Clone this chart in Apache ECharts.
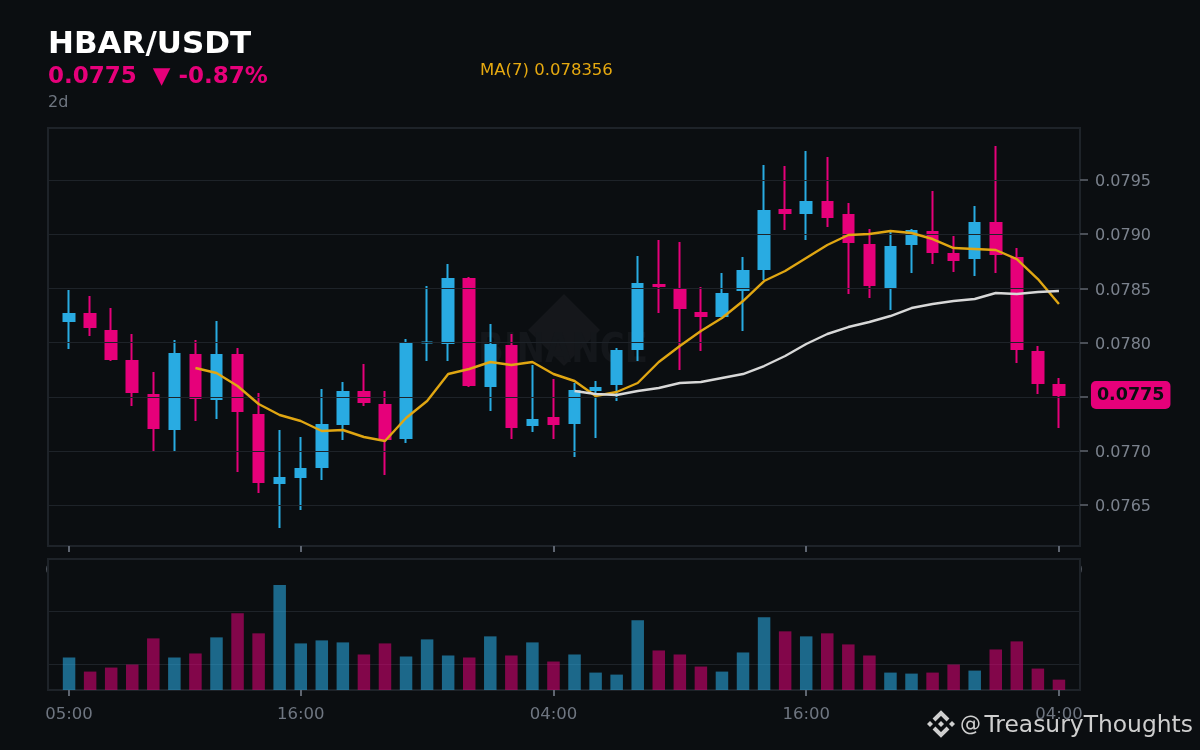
<!DOCTYPE html>
<html><head><meta charset="utf-8">
<style>html,body{margin:0;padding:0;background:#0b0e11}#c{width:1200px;height:750px}</style>
<script src="https://cdn.jsdelivr.net/npm/echarts@6/dist/echarts.min.js"></script>
</head><body><div id="c"></div>
<script>
const times = ['05:00','06:00','07:00','08:00','09:00','10:00','11:00','12:00','13:00','14:00','15:00','16:00','17:00','18:00','19:00','20:00','21:00','22:00','23:00','00:00','01:00','02:00','03:00','04:00','05:00','06:00','07:00','08:00','09:00','10:00','11:00','12:00','13:00','14:00','15:00','16:00','17:00','18:00','19:00','20:00','21:00','22:00','23:00','00:00','01:00','02:00','03:00','04:00'];
const labelledIndexes = [0, 11, 23, 35, 47];
const priceTicks = [0.0765, 0.077, 0.0775, 0.078, 0.0785, 0.079, 0.0795];
const volumeTicks = [26, 78];
const open = [0.0781993,0.0782639,0.0781070,0.0778303,0.0775166,0.0772030,0.0778856,0.0774797,0.0778856,0.0773321,0.0767047,0.0767602,0.0768524,0.0772491,0.0775443,0.0774244,0.0771200,0.0780010,0.0779963,0.0785867,0.0775997,0.0779687,0.0772399,0.0773045,0.0772583,0.0775628,0.0776181,0.0779410,0.0785314,0.0784945,0.0782731,0.0782454,0.0784853,0.0786790,0.0792233,0.0791956,0.0792970,0.0791771,0.0789004,0.0785037,0.0789096,0.0790203,0.0788174,0.0787805,0.0791033,0.0787805,0.0779133,0.0776089];
const close = [0.0782639,0.0781439,0.0778487,0.0775443,0.0772122,0.0778949,0.0774890,0.0778856,0.0773690,0.0767141,0.0767510,0.0768340,0.0772399,0.0775443,0.0774521,0.0771107,0.0779963,0.0780010,0.0785867,0.0776089,0.0779779,0.0772214,0.0772860,0.0772491,0.0775535,0.0775812,0.0779225,0.0785406,0.0785222,0.0783192,0.0782454,0.0784484,0.0786605,0.0792140,0.0791956,0.0792970,0.0791587,0.0789281,0.0785314,0.0788819,0.0790295,0.0788358,0.0787620,0.0791033,0.0788174,0.0779410,0.0776273,0.0775166];
const low = [0.0779410,0.0780609,0.0778303,0.0774152,0.0770000,0.0770000,0.0772768,0.0772952,0.0768063,0.0766126,0.0762897,0.0764558,0.0767325,0.0771015,0.0774152,0.0767786,0.0770738,0.0778303,0.0778303,0.0775904,0.0773690,0.0771107,0.0771753,0.0771107,0.0769447,0.0771200,0.0774613,0.0778303,0.0782731,0.0777473,0.0779225,0.0782362,0.0781070,0.0785775,0.0790388,0.0789465,0.0790664,0.0784484,0.0784115,0.0783008,0.0786421,0.0787251,0.0786513,0.0786144,0.0786421,0.0778117,0.0775259,0.0772122];
const high = [0.0784853,0.0784299,0.0783192,0.0780794,0.0777288,0.0780240,0.0780240,0.0781993,0.0779502,0.0775351,0.0771938,0.0771292,0.0775720,0.0776366,0.0778026,0.0775535,0.0780332,0.0785222,0.0787251,0.0786052,0.0781716,0.0780794,0.0777934,0.0776642,0.0776273,0.0776458,0.0779502,0.0787989,0.0789465,0.0789281,0.0785129,0.0786421,0.0787897,0.0796384,0.0796291,0.0797675,0.0797122,0.0792878,0.0790480,0.0790203,0.0790480,0.0793985,0.0789834,0.0792601,0.0798136,0.0788727,0.0779687,0.0776735];
const volume = [32.3,18.3,22.3,25.3,51.3,32.3,36.3,52.3,76.3,56.3,104.3,46.3,49.3,47.3,35.3,46.3,33.3,50.3,34.3,32.3,53.3,34.3,47.3,28.3,35.3,17.3,15.3,69.3,39.3,35.3,23.3,18.3,37.3,72.3,58.3,53.3,56.3,45.3,34.3,17.3,16.3,17.3,25.3,19.3,40.3,48.3,21.3,10.3];
const ma7 = [0.0777657,0.0777196,0.0775997,0.0774336,0.0773321,0.0772768,0.0771845,0.0771938,0.0771292,0.0770923,0.0773045,0.0774613,0.0777104,0.0777565,0.0778211,0.0777934,0.0778211,0.0777104,0.0776458,0.0775074,0.0775443,0.0776273,0.0778211,0.0779687,0.0781070,0.0782270,0.0783838,0.0785683,0.0786605,0.0787805,0.0789004,0.0789926,0.0790019,0.0790295,0.0790111,0.0789557,0.0788727,0.0788635,0.0788543,0.0787712,0.0785867,0.078356];
const ma25 = [0.0775535,0.0775259,0.0775166,0.0775535,0.0775812,0.0776273,0.0776366,0.0776735,0.0777104,0.0777842,0.0778764,0.0779871,0.0780794,0.0781439,0.0781901,0.0782454,0.0783192,0.0783561,0.0783838,0.0784022,0.0784576,0.0784484,0.0784668,0.0784760];

const BLUE = '#29abe2', PINK = '#e6007a', BG = '#0b0e11', GRID = '#1e2329', TXT = '#6f7681', FONT = '"DejaVu Sans"';
const cats = ['', ...times, ''];
const tail = (arr) => [null, ...Array(48 - arr.length).fill(null), ...arr, null];
const candleData = [['-','-','-','-'], ...times.map((_, i) => [open[i], close[i], low[i], high[i]]), ['-','-','-','-']];
const volData = [null, ...volume.map((v, i) => ({
  value: v,
  itemStyle: { color: close[i] >= open[i] ? 'rgba(41,171,226,0.58)' : 'rgba(230,0,122,0.55)' }
})), null];
const shown = i => labelledIndexes.includes(i - 1);
const xAxisBase = {
  type: 'category', data: cats, boundaryGap: false,
  axisLine: { show: false },
  axisTick: { show: true, length: 6, interval: shown, lineStyle: { color: '#5e6570', width: 2 } },
  axisLabel: { show: true, interval: shown, color: TXT, fontFamily: FONT, fontSize: 16.5, margin: 16, hideOverlap: false },
  splitLine: { show: false }
};
const chart = echarts.init(document.getElementById('c'), null, { renderer: 'canvas' });
const W = '#cfcfcf';
chart.setOption({
  animation: false,
  backgroundColor: BG,
  grid: [
    { left: 48, right: 120, top: 128, height: 418, show: true, borderColor: GRID, borderWidth: 2, backgroundColor: 'transparent', z: 0 },
    { left: 48, right: 120, top: 559, height: 131, show: true, borderColor: GRID, borderWidth: 2, backgroundColor: BG, z: 5 }
  ],
  xAxis: [
    { ...xAxisBase, gridIndex: 0, z: 0 },
    { ...xAxisBase, gridIndex: 1, z: 6 }
  ],
  yAxis: [
    {
      type: 'value', gridIndex: 0, position: 'right', scale: true, min: 0.0761236, max: 0.07998, z: 3,
      axisLine: { show: false },
      axisTick: { show: true, length: 8, customValues: priceTicks, lineStyle: { color: '#4a4f57', width: 2 } },
      axisLabel: {
        color: '#7b828d', fontFamily: FONT, fontSize: 16, margin: 15, customValues: priceTicks,
        formatter: v => '{a|' + v.toFixed(4) + '}',
        rich: { a: { color: '#7b828d', fontFamily: FONT, fontSize: 16, padding: [4, 0, 0, 0] } }
      },
      splitLine: { show: true, lineStyle: { color: GRID, width: 1 } }
    },
    {
      type: 'value', gridIndex: 1, position: 'right', min: 0, max: 130.2, z: 6,
      axisLine: { show: false },
      axisTick: { show: false, customValues: volumeTicks },
      axisLabel: { show: false, customValues: volumeTicks },
      splitLine: { show: true, lineStyle: { color: GRID, width: 1 } }
    }
  ],
  series: [
    {
      type: 'candlestick', name: 'HBAR/USDT', xAxisIndex: 0, yAxisIndex: 0, z: 2, barWidth: 11,
      data: candleData, silent: true,
      itemStyle: { color: BLUE, color0: PINK, borderColor: BLUE, borderColor0: PINK, borderWidth: 2 }
    },
    { type: 'line', name: 'MA(7)', xAxisIndex: 0, yAxisIndex: 0, z: 4, data: tail(ma7), symbol: 'none', silent: true,
      lineStyle: { color: '#e0a612', width: 2.4 } },
    { type: 'line', name: 'MA(25)', xAxisIndex: 0, yAxisIndex: 0, z: 4, data: tail(ma25), symbol: 'none', silent: true,
      lineStyle: { color: '#d8d8d8', width: 2.4 } },
    {
      type: 'scatter', name: 'Last price', xAxisIndex: 0, yAxisIndex: 0, z: 9, silent: true, clip: false,
      data: tail([close[close.length - 1]]), symbolSize: 1, itemStyle: { color: PINK, opacity: 1 },
      label: {
        show: true, position: 'right', distance: 31.5, formatter: p => p.value.toFixed(4), opacity: 1,
        color: '#0b0e11', fontFamily: FONT, fontWeight: 'bold', fontSize: 17.5,
        backgroundColor: PINK, borderRadius: 5, padding: [6, 6, 4, 6]
      }
    },
    { type: 'bar', name: 'Volume', xAxisIndex: 1, yAxisIndex: 1, z: 7, barWidth: 12.5, data: volData, silent: true }
  ],
  graphic: { elements: [
    { type: 'polygon', z: 1, silent: true, shape: { points: [[564,294],[600,330],[564,366],[528,330]] }, style: { fill: '#15171b' } },
    { type: 'text', z: 1, silent: true, x: 563, y: 351, scaleY: 1.2, style: { text: 'BINANCE', fill: '#14171b', font: 'bold 34px "DejaVu Sans"', textAlign: 'center', textVerticalAlign: 'middle' } },
    { type: 'text', z: 20, silent: true, x: 48, y: 45, style: { text: 'HBAR/USDT', fill: '#ffffff', font: 'bold 31px "DejaVu Sans"', textVerticalAlign: 'middle' } },
    { type: 'text', z: 20, silent: true, x: 48, y: 77, style: { text: '0.0775  ▼ -0.87%', fill: PINK, font: 'bold 23px "DejaVu Sans"', textVerticalAlign: 'middle' } },
    { type: 'text', z: 20, silent: true, x: 48, y: 103, style: { text: '2d', fill: TXT, font: '16px "DejaVu Sans"', textVerticalAlign: 'middle' } },
    { type: 'text', z: 20, silent: true, x: 480, y: 71, style: { text: 'MA(7) 0.078356', fill: '#e6a910', font: '16.5px "DejaVu Sans"', textVerticalAlign: 'middle' } },
    { type: 'polygon', z: 20, silent: true, shape: { points: [[941,721],[944,724],[941,727],[938,724]] }, style: { fill: W } },
    { type: 'polygon', z: 20, silent: true, shape: { points: [[930,721],[933,724],[930,727],[927,724]] }, style: { fill: W } },
    { type: 'polygon', z: 20, silent: true, shape: { points: [[952,721],[955,724],[952,727],[949,724]] }, style: { fill: W } },
    { type: 'polyline', z: 20, silent: true, shape: { points: [[934,720],[941,713],[948,720]] }, style: { stroke: W, lineWidth: 4, fill: 'none' } },
    { type: 'polyline', z: 20, silent: true, shape: { points: [[934,728],[941,735],[948,728]] }, style: { stroke: W, lineWidth: 4, fill: 'none' } },
    { type: 'text', z: 20, silent: true, x: 960, y: 726, style: { text: '@', fill: W, font: '21px "DejaVu Sans"', textVerticalAlign: 'middle' } },
    { type: 'text', z: 20, silent: true, x: 984.5, y: 726, style: { text: 'TreasuryThoughts', fill: W, font: '23.4px "DejaVu Sans"', textVerticalAlign: 'middle' } }
  ] }
});
</script></body></html>
